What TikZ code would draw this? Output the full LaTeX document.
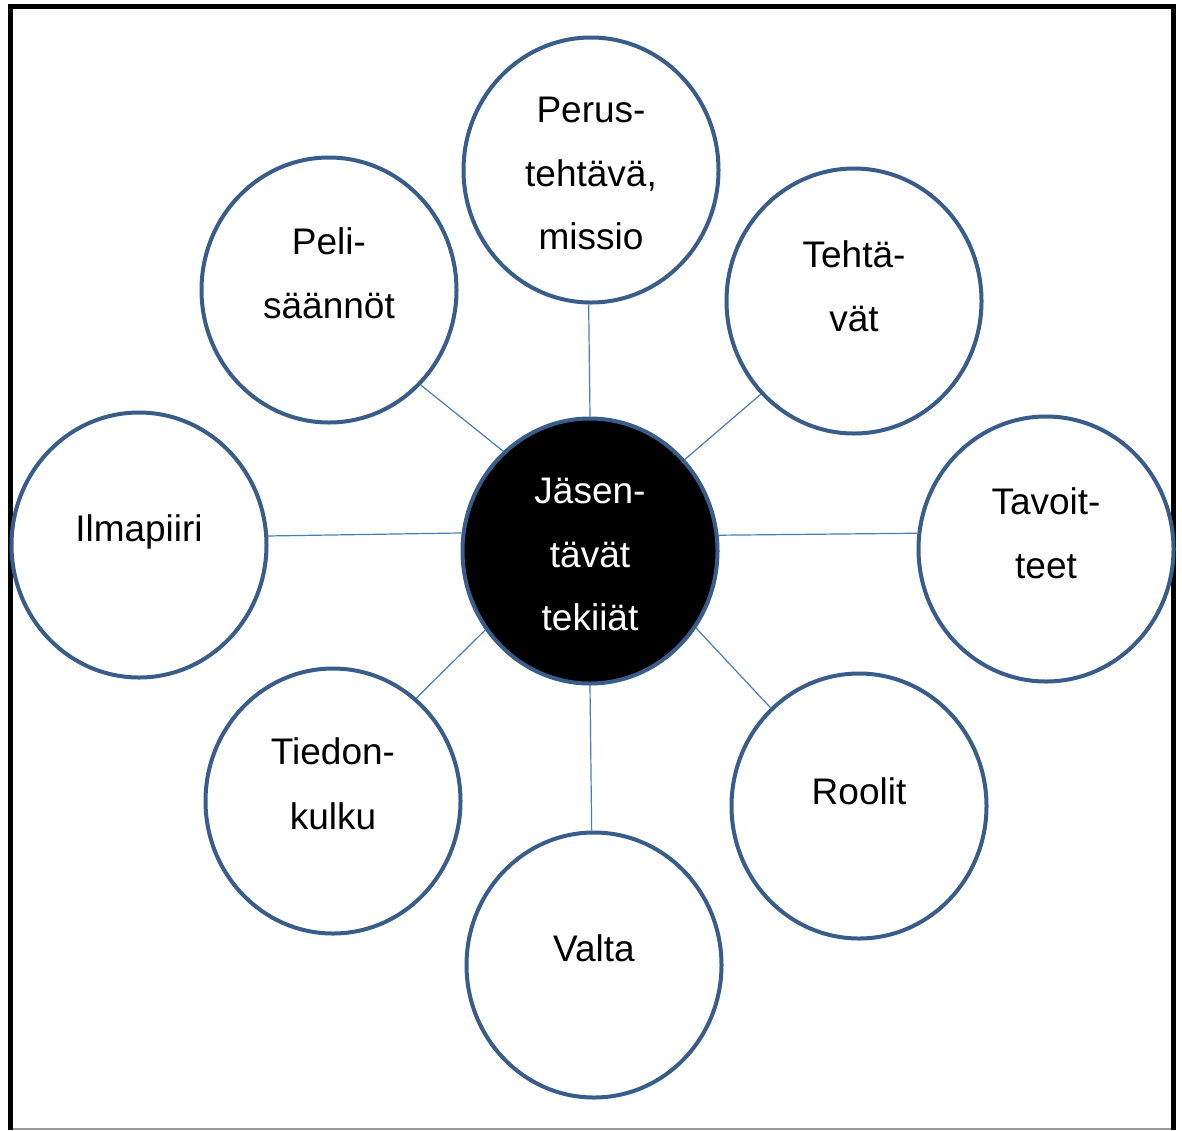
\documentclass[tikz,border=0pt]{standalone}
\usepackage{fontspec}
\setmainfont{Liberation Sans}
\usetikzlibrary{shapes.geometric}
\definecolor{ringblue}{HTML}{385D8A}
\definecolor{lineblue}{HTML}{4A7EBB}
\tikzset{
  ring/.style={ellipse, draw=ringblue, line width=4pt, fill=white, inner sep=0pt,
    minimum width=255pt, minimum height=265pt},
  hub/.style={ring, fill=black},
  word/.style={anchor=base, inner sep=0pt, font=\fontsize{37}{44}\selectfont},
  hubword/.style={word, text=white},
  spoke/.style={draw=lineblue, line width=1.2pt},
  frameline/.style={line width=5.5pt, draw=black},
}
\begin{document}
\begin{tikzpicture}[x=1pt,y=-1pt]
\useasboundingbox (0,0) rectangle (1182,1130);
\fill[white] (0,0) rectangle (1182,1130);
% frame
\draw[frameline] (10.6,1130) -- (10.6,6.6) -- (1173.7,6.6) -- (1173.7,1130);
\draw[draw=black!40, line width=1.5pt] (13,1129.2) -- (1171,1129.2);

% circles
\node[hub]  (c)    at (590,551) {};
\node[ring] (perus) at (591,170) {};
\node[ring] (teht) at (854,301) {};
\node[ring] (tav)  at (1046,549) {};
\node[ring] (rool) at (859,806) {};
\node[ring] (valta) at (594,965) {};
\node[ring] (tied) at (333,801) {};
\node[ring] (ilma) at (139,545) {};
\node[ring] (peli) at (329,290) {};

% spokes
\draw[spoke] (c.90.9) -- (perus.269.3);
\draw[spoke] (c.44.4) -- (teht.225.6);
\draw[spoke] (c.7.1) -- (tav.173.3);
\draw[spoke] (c.-36.1) -- (rool.132.2);
\draw[spoke] (c.-90) -- (valta.91.7);
\draw[spoke] (c.217.3) -- (tied.51.9);
\draw[spoke] (c.172.9) -- (ilma.4.0);
\draw[spoke] (c.131.7) -- (peli.314.4);

% texts
\node[hubword] (c1) at (590,503) {Jäsen-};
\node[hubword] (c2) at (590,567) {tävät};
\node[hubword] (c3) at (590,630) {tekiiät};

\node[word] (p1) at (591,122) {Perus-};
\node[word] (p2) at (591,186) {tehtävä,};
\node[word] (p3) at (591,249) {missio};

\node[word] (t1) at (854,267) {Tehtä-};
\node[word] (t2) at (854,331) {vät};

\node[word] (v1) at (1046,514) {Tavoit-};
\node[word] (v2) at (1046,578) {teet};

\node[word] (r1) at (859,804) {Roolit};

\node[word] (a1) at (594,961) {Valta};

\node[word] (k1) at (333,764) {Tiedon-};
\node[word] (k2) at (333,829) {kulku};

\node[word] (i1) at (139,541) {Ilmapiiri};

\node[word] (s1) at (329,254) {Peli-};
\node[word] (s2) at (329,318) {säännöt};
\end{tikzpicture}
\end{document}
